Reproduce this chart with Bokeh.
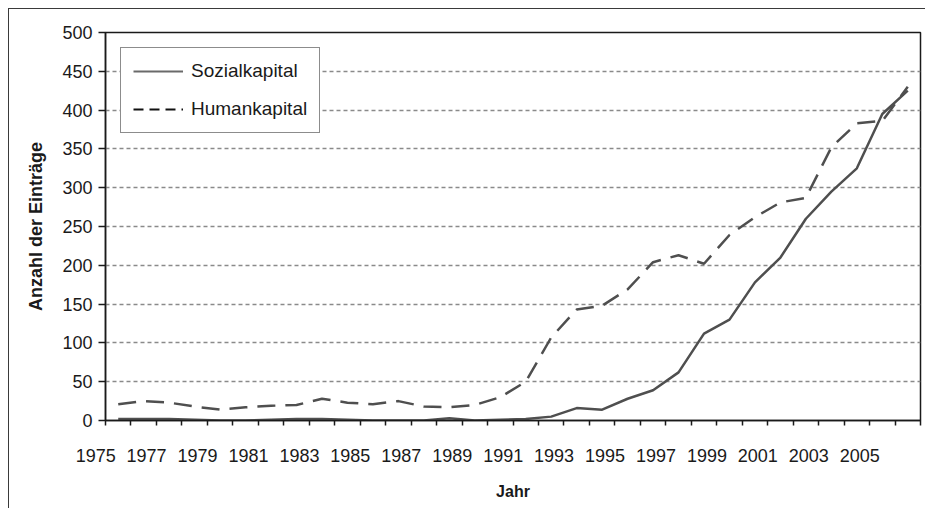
from bokeh.plotting import figure
from bokeh.models import (FixedTicker, Range1d, Legend, LegendItem,
                          ColumnDataSource, CDSView, IndexFilter)
from bokeh.embed import file_html
from bokeh.resources import INLINE

# ---- data ----
years = list(range(1976, 2008))
sozialkapital = [2, 2, 2, 1, 0, 0, 1, 2, 2, 1, 0, 0, 0, 3, 0, 1,
                 2, 5, 16, 14, 28, 39, 62, 112, 130, 178, 210, 260, 295, 325, 395, 425]
humankapital = [21, 25, 23, 18, 14, 17, 19, 20, 28, 23, 21, 25, 18, 17, 20, 30,
                50, 107, 143, 148, 169, 204, 213, 202, 239, 262, 281, 287, 352, 383, 386, 430]
x_label_years = [1975, 1977, 1979, 1981, 1983, 1985, 1987, 1989, 1991,
                 1993, 1995, 1997, 1999, 2001, 2003, 2005]
y_ticks = [0, 50, 100, 150, 200, 250, 300, 350, 400, 450, 500]
series_names = ["Sozialkapital", "Humankapital"]
x_title = "Jahr"
y_title = "Anzahl der Einträge"

FONT = "Liberation Sans"
TXT = "#1a1a1a"
LINE = "#4f4f4f"

x_start, x_end = years[0] - 0.5, years[-1] + 0.5

p = figure(width=916, height=499, output_backend="svg", toolbar_location=None,
           x_range=Range1d(x_start, x_end), y_range=Range1d(y_ticks[0], y_ticks[-1]),
           min_border_left=96, min_border_right=5, min_border_top=23, min_border_bottom=88,
           background_fill_color="white", border_fill_color=None)
p.styles = {"outline": "1px solid #3a3a3a", "margin-left": "9px", "margin-top": "9px"}
p.outline_line_color = "#1a1a1a"
p.outline_line_width = 1.5

# x axis: tick marks at category boundaries; the labels are right-aligned at a
# point shifted by about half a label width, so each label is centred on its year
label_shift = 0.9
label_pos = [yr + label_shift for yr in x_label_years]
boundaries = [x_start + i for i in range(len(years) + 1)]
p.xaxis.ticker = FixedTicker(ticks=label_pos, minor_ticks=boundaries)
p.xaxis.major_label_overrides = {pos: str(yr) for pos, yr in zip(label_pos, x_label_years)}
p.xaxis.major_label_orientation = 0.0001   # tiny angle -> right-aligned labels
p.xaxis.major_tick_out = 0
p.xaxis.major_tick_in = 0
p.xaxis.minor_tick_out = 5
p.xaxis.minor_tick_in = 0
p.xaxis.minor_tick_line_color = "#1a1a1a"
p.xaxis.minor_tick_line_width = 1.5
p.xaxis.major_label_standoff = 30
p.xaxis.axis_label = x_title
p.xaxis.axis_label_standoff = 11

p.yaxis.ticker = FixedTicker(ticks=y_ticks)
p.yaxis.major_tick_out = 7
p.yaxis.major_tick_in = 0
p.yaxis.minor_tick_line_color = None
p.yaxis.major_label_standoff = 6
p.yaxis.axis_label = y_title
p.yaxis.axis_label_standoff = 13

for ax in (p.xaxis, p.yaxis):
    ax.axis_line_color = "#1a1a1a"
    ax.axis_line_width = 1.5
    ax.major_tick_line_color = "#1a1a1a"
    ax.major_tick_line_width = 1.5
    ax.major_label_text_font = FONT
    ax.major_label_text_font_size = "18px"
    ax.major_label_text_color = TXT
    ax.axis_label_text_font = FONT
    ax.axis_label_text_font_style = "bold"
    ax.axis_label_text_color = TXT
p.xaxis.axis_label_text_font_size = "16px"
p.yaxis.axis_label_text_font_size = "18px"

p.xgrid.visible = False
p.ygrid.ticker = FixedTicker(ticks=y_ticks)
p.ygrid.grid_line_color = "#8a8a8a"
p.ygrid.grid_line_width = 1.5
p.ygrid.grid_line_dash = "4 3"

src = ColumnDataSource(dict(year=years, soz=sozialkapital, hum=humankapital))

# data lines
p.line("year", "soz", source=src, line_color=LINE, line_width=2.5)
p.line("year", "hum", source=src, line_color=LINE, line_width=2.5, line_dash="18 10")

# legend samples styled like the reference legend (a single point: no visible line)
leg_s = p.line("year", "soz", source=src, view=CDSView(filter=IndexFilter(indices=[0])),
               line_color="#6a6a6a", line_width=2)
leg_h = p.line("year", "hum", source=src, view=CDSView(filter=IndexFilter(indices=[0])),
               line_color="#111111", line_width=2, line_dash="10 6")

legend = Legend(items=[LegendItem(label=series_names[0], renderers=[leg_s]),
                       LegendItem(label=series_names[1], renderers=[leg_h])],
                location="top_left", margin=15, padding=12, spacing=16,
                glyph_width=50, glyph_height=22, label_height=22, label_standoff=8,
                label_text_font=FONT, label_text_font_size="19px",
                label_text_color=TXT,
                border_line_color="#1a1a1a", border_line_width=1.5,
                background_fill_color="white", background_fill_alpha=1)
p.add_layout(legend)

open("out.html", "w").write(file_html(p, INLINE))
